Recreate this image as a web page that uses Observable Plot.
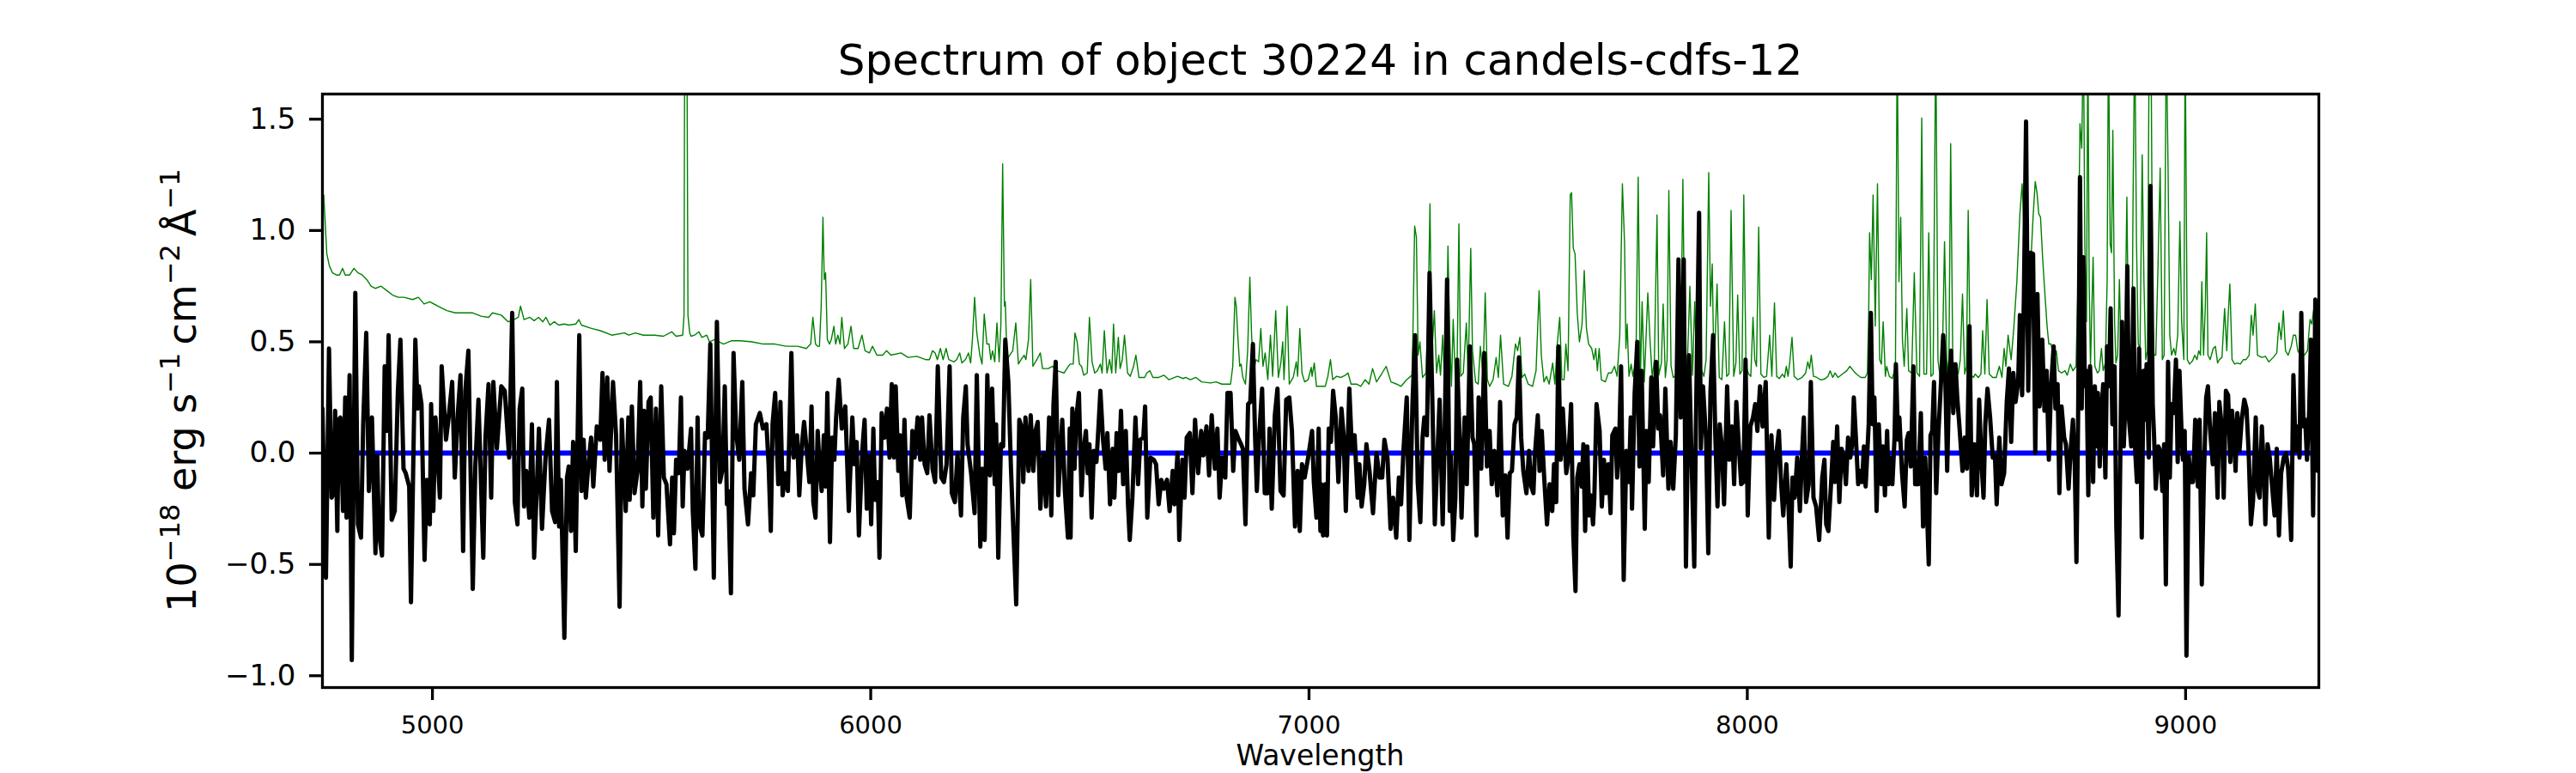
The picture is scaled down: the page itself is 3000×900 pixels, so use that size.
<!DOCTYPE html>
<html><head><meta charset="utf-8">
<script src="https://cdn.jsdelivr.net/npm/d3@7"></script>
<script src="https://cdn.jsdelivr.net/npm/@observablehq/plot@0.6"></script>
<style>
html,body{margin:0;padding:0;background:#fff;}
#chart{width:3000px;height:900px;}
</style></head><body><div id="chart"></div>
<script>
const titleText = "Spectrum of object 30224 in candels-cdfs-12";
const xLabelText = "Wavelength";
const xTicks = [5000, 6000, 7000, 8000, 9000];
const yTicks = [-1.0, -0.5, 0.0, 0.5, 1.0, 1.5];
const xDomain = [4749, 9304];
const yDomain = [-1.053, 1.613];

// object spectrum [wavelength, flux]
const objectFlux = [
[4749,0.20],[4757,-0.56],[4764,0.47],[4770,-0.20],[4775,-0.18],[4778,0.19],[4783,-0.35],[4786,0.15],[4790,0.16],[4796,-0.26],[4801,0.25],[4804,-0.29],[4811,0.35],[4816,-0.93],[4824,0.72],[4830,-0.32],[4837,-0.38],[4842,0.13],[4849,0.54],[4855,-0.17],[4862,0.16],[4870,-0.45],[4874,-0.01],[4878,-0.36],[4885,-0.46],[4891,0.39],[4896,0.10],[4900,0.53],[4907,-0.30],[4914,-0.26],[4921,0.27],[4927,0.51],[4934,-0.07],[4939,-0.09],[4947,-0.15],[4951,-0.67],[4961,0.51],[4966,0.20],[4969,0.30],[4975,0.22],[4982,-0.48],[4987,-0.12],[4994,-0.32],[4997,0.22],[5002,-0.26],[5007,0.16],[5017,-0.20],[5021,0.39],[5031,0.06],[5037,0.16],[5045,0.32],[5051,-0.11],[5058,0.18],[5064,0.35],[5070,-0.44],[5075,0.28],[5082,0.46],[5092,-0.61],[5098,-0.05],[5105,0.24],[5116,-0.47],[5121,0.07],[5128,0.31],[5134,-0.20],[5139,0.32],[5147,0.02],[5157,0.30],[5165,0.28],[5175,-0.02],[5182,0.63],[5188,-0.22],[5194,-0.32],[5199,0.20],[5205,0.29],[5209,-0.24],[5214,-0.08],[5221,-0.29],[5227,0.13],[5232,-0.47],[5239,-0.11],[5243,0.11],[5250,-0.34],[5258,-0.02],[5266,0.15],[5273,-0.26],[5280,-0.31],[5284,0.32],[5289,-0.33],[5293,-0.12],[5301,-0.83],[5307,-0.11],
[5311,-0.06],[5316,-0.35],[5321,0.05],[5327,-0.44],[5335,0.53],[5340,-0.17],[5345,0.06],[5350,-0.20],[5355,-0.07],[5362,0.07],[5367,-0.15],[5375,0.12],[5383,0.06],[5388,0.36],[5393,-0.03],[5399,0.34],[5404,-0.08],[5412,0.32],[5419,0.08],[5427,-0.69],[5432,0.15],[5441,-0.26],[5447,0.16],[5450,-0.21],[5455,0.21],[5461,-0.18],[5468,-0.08],[5474,0.32],[5479,-0.24],[5483,0.19],[5487,-0.16],[5493,0.23],[5498,0.25],[5504,-0.29],[5510,0.20],[5515,-0.37],[5522,0.30],[5528,-0.11],[5534,-0.14],[5542,-0.41],[5547,-0.11],[5551,-0.36],[5556,-0.03],[5562,-0.09],[5567,0.25],[5571,-0.24],[5575,0.01],[5582,-0.07],[5590,0.11],[5594,-0.26],[5600,-0.52],[5605,0.16],[5609,-0.32],[5616,-0.37],[5622,0.09],[5628,0.07],[5634,0.49],[5642,-0.56],[5649,0.59],[5656,-0.13],[5662,-0.07],[5667,0.30],[5672,-0.23],[5675,-0.17],[5681,-0.63],[5687,0.45],[5693,0.09],[5700,-0.03],[5707,0.32],[5712,-0.16],[5720,-0.32],[5727,-0.09],[5732,-0.19],[5738,0.13],[5747,0.18],[5754,0.11],[5762,0.13],[5767,-0.05],[5772,-0.35],[5776,0.13],[5782,0.27],[5789,-0.14],[5794,0.23],[5799,-0.19],[5805,-0.09],[5811,-0.17],[5819,0.45],[5824,-0.02],[5832,0.08],[5837,-0.19],[5843,0.04],[5848,0.14],[5854,0.01],[5860,-0.13],[5865,0.21],[5869,-0.22],[5874,-0.29],[5879,0.10],
[5883,-0.05],[5888,-0.17],[5893,0.08],[5897,-0.15],[5901,0.27],[5907,-0.40],[5912,0.07],[5917,-0.03],[5921,0.16],[5927,0.33],[5934,0.11],[5942,0.21],[5950,-0.26],[5958,0.16],[5963,-0.05],[5968,0.05],[5973,-0.37],[5981,0.02],[5986,0.15],[5991,-0.25],[5997,-0.01],[6001,-0.32],[6006,0.11],[6010,-0.21],[6016,-0.13],[6020,-0.47],[6025,0.18],[6032,0.07],[6037,0.20],[6043,-0.02],[6048,0.31],[6053,-0.02],[6057,0.30],[6063,-0.08],[6067,0.08],[6072,-0.19],[6077,0.15],[6082,-0.20],[6089,-0.29],[6095,0.10],[6100,-0.02],[6107,0.16],[6113,-0.03],[6117,0.16],[6123,-0.05],[6129,-0.09],[6134,0.17],[6141,-0.07],[6147,-0.13],[6153,0.39],[6161,-0.11],[6167,-0.13],[6173,-0.05],[6180,0.39],[6185,-0.18],[6192,-0.22],[6198,0.00],[6206,-0.28],[6211,0.16],[6217,0.30],[6221,0.04],[6229,-0.09],[6237,-0.27],[6242,0.35],[6250,-0.42],[6255,-0.07],[6260,-0.39],[6266,0.35],[6272,-0.10],[6277,0.29],[6283,-0.14],[6286,0.13],[6291,-0.47],[6297,0.04],[6302,0.03],[6307,0.51],[6314,0.32],[6320,-0.07],[6332,-0.68],[6339,0.15],[6345,0.11],[6348,-0.13],[6353,0.16],[6360,-0.08],[6365,0.17],[6371,-0.08],[6376,0.10],[6381,0.14],[6387,-0.25],[6394,0.00],[6400,-0.24],[6407,0.16],[6412,-0.28],[6417,0.22],[6422,0.41],[6428,-0.19],[6437,0.15],[6443,-0.17],[6450,-0.38],[6454,0.11],
[6456,-0.38],[6460,0.20],[6465,-0.07],[6469,0.16],[6475,0.27],[6481,-0.19],[6486,0.02],[6491,0.10],[6495,-0.09],[6499,0.04],[6504,-0.29],[6509,0.01],[6515,-0.04],[6520,0.13],[6524,0.28],[6530,0.06],[6536,-0.07],[6540,0.09],[6546,-0.23],[6552,0.02],[6556,-0.20],[6561,0.09],[6566,-0.08],[6571,0.19],[6576,-0.14],[6582,0.10],[6587,-0.23],[6591,-0.39],[6597,-0.20],[6604,0.16],[6610,-0.14],[6615,0.06],[6622,0.07],[6626,0.21],[6631,-0.29],[6638,-0.02],[6646,-0.03],[6651,-0.05],[6657,-0.23],[6663,-0.12],[6669,-0.16],[6676,-0.12],[6682,-0.26],[6689,-0.08],[6693,-0.23],[6700,0.00],[6704,-0.39],[6711,-0.03],[6716,-0.20],[6721,0.07],[6728,0.09],[6734,-0.18],[6740,0.15],[6747,-0.09],[6754,0.10],[6759,-0.01],[6766,0.12],[6772,-0.10],[6778,0.17],[6785,-0.07],[6791,0.11],[6796,-0.20],[6802,-0.02],[6809,-0.11],[6814,0.27],[6821,0.27],[6827,-0.08],[6832,0.10],[6838,0.07],[6845,0.04],[6849,0.02],[6855,-0.32],[6861,0.22],[6866,0.23],[6872,0.49],[6877,0.07],[6881,-0.17],[6886,0.07],[6893,0.29],[6899,-0.18],[6906,-0.18],[6910,0.11],[6915,-0.25],[6922,0.17],[6928,0.29],[6935,-0.17],[6942,-0.19],[6948,0.24],[6955,0.25],[6961,0.10],[6968,-0.33],[6974,-0.08],[6979,-0.35],[6984,-0.05],[6990,-0.11],[6998,-0.02],[7007,0.10],[7011,-0.13],[7017,-0.29],[7022,0.11],[7026,-0.35],
[7028,-0.14],[7032,-0.37],[7037,-0.14],[7041,-0.37],[7045,0.11],[7050,0.05],[7055,0.28],[7061,0.16],[7067,-0.13],[7074,0.20],[7079,0.08],[7084,-0.26],[7092,0.29],[7098,0.01],[7104,0.08],[7111,-0.20],[7115,-0.05],[7120,-0.24],[7126,-0.14],[7131,0.04],[7138,-0.08],[7146,-0.27],[7154,0.00],[7161,-0.11],[7167,-0.11],[7172,0.06],[7179,-0.02],[7186,-0.34],[7192,-0.20],[7199,-0.38],[7205,-0.11],[7210,-0.23],[7216,0.03],[7223,0.25],[7229,-0.39],[7236,0.22],[7242,0.53],[7248,-0.13],[7254,-0.31],[7259,0.07],[7263,0.16],[7269,0.08],[7275,0.81],[7282,0.18],[7287,-0.32],[7291,-0.11],[7298,0.24],[7305,-0.32],[7309,0.02],[7315,0.78],[7321,-0.26],[7324,-0.01],[7329,-0.39],[7334,-0.20],[7338,0.42],[7344,0.04],[7348,-0.29],[7355,0.16],[7360,-0.14],[7367,0.48],[7373,0.07],[7377,0.04],[7382,-0.37],[7387,0.25],[7393,-0.07],[7400,0.45],[7406,-0.06],[7412,0.10],[7417,-0.14],[7423,0.01],[7430,-0.19],[7436,0.23],[7442,-0.28],[7448,-0.10],[7453,-0.38],[7458,-0.09],[7463,-0.08],[7469,0.13],[7474,0.16],[7479,0.43],[7484,0.07],[7489,-0.08],[7496,-0.18],[7502,0.01],[7507,-0.15],[7512,-0.18],[7515,-0.02],[7522,0.17],[7526,-0.08],[7531,0.10],[7536,-0.09],[7543,-0.32],[7549,-0.14],[7555,-0.26],[7559,-0.05],[7564,-0.22],[7569,0.48],[7574,-0.03],[7579,0.20],[7587,-0.09],[7592,-0.02],[7598,0.22],
[7603,-0.37],[7608,-0.62],[7612,-0.11],[7617,-0.05],[7622,-0.15],[7626,0.04],[7630,-0.35],[7635,0.03],[7639,-0.28],[7643,-0.19],[7648,-0.32],[7651,-0.20],[7656,0.22],[7663,0.10],[7668,-0.24],[7673,-0.03],[7677,-0.18],[7683,-0.05],[7688,-0.27],[7692,0.08],[7699,0.11],[7703,-0.11],[7707,0.00],[7712,0.39],[7718,-0.57],[7724,0.01],[7730,-0.13],[7734,0.16],[7737,-0.25],[7743,0.27],[7749,0.50],[7754,-0.06],[7759,0.37],[7766,-0.34],[7770,0.10],[7775,-0.13],[7781,0.34],[7785,0.03],[7792,0.41],[7797,0.11],[7801,0.17],[7808,-0.10],[7813,0.29],[7820,-0.16],[7825,0.05],[7831,-0.16],[7837,0.08],[7843,0.87],[7848,0.16],[7855,0.87],[7860,-0.51],[7867,0.44],[7872,0.04],[7879,-0.51],[7883,0.16],[7890,1.08],[7894,0.02],[7899,0.30],[7906,0.06],[7911,-0.45],[7916,0.28],[7922,0.53],[7927,0.08],[7932,-0.24],[7937,0.13],[7942,0.03],[7947,-0.23],[7954,0.30],[7959,-0.03],[7965,0.12],[7970,-0.14],[7975,0.23],[7981,0.02],[7986,-0.14],[7991,-0.13],[7996,0.42],[8001,-0.28],[8007,0.12],[8013,0.16],[8018,0.22],[8023,0.10],[8029,0.30],[8035,0.12],[8042,0.32],[8049,-0.38],[8055,0.08],[8061,-0.21],[8067,0.01],[8072,0.10],[8077,-0.13],[8082,-0.28],[8089,-0.05],[8094,-0.24],[8099,-0.51],[8103,-0.11],[8108,-0.20],[8114,-0.02],[8120,-0.26],[8125,0.00],[8129,0.16],[8134,-0.22],[8140,-0.14],[8145,0.32],[8151,-0.20],[8157,-0.24],[8164,-0.39],[8171,-0.11],
[8176,-0.03],[8180,-0.32],[8185,-0.35],[8191,-0.14],[8196,0.05],[8200,-0.13],[8205,0.12],[8210,-0.22],[8215,0.02],[8220,-0.02],[8225,-0.14],[8230,0.07],[8235,-0.02],[8240,0.05],[8243,0.25],[8248,0.06],[8253,-0.14],[8257,-0.08],[8262,-0.13],[8266,0.03],[8270,-0.15],[8277,0.13],[8282,0.63],[8286,0.13],[8290,0.25],[8295,-0.26],[8300,0.13],[8306,-0.14],[8310,0.03],[8314,-0.19],[8319,0.10],[8322,-0.14],[8326,-0.02],[8331,-0.14],[8336,0.07],[8339,0.40],[8344,0.06],[8347,0.16],[8353,-0.09],[8359,-0.24],[8364,0.06],[8368,0.09],[8373,-0.06],[8379,0.39],[8383,-0.14],[8390,-0.14],[8396,0.18],[8401,-0.33],[8406,-0.02],[8414,-0.50],[8418,0.08],[8422,0.10],[8426,0.32],[8431,-0.18],[8436,0.09],[8442,0.32],[8447,0.53],[8452,0.32],[8456,-0.08],[8461,0.35],[8465,0.46],[8470,0.18],[8475,0.40],[8479,0.25],[8484,0.12],[8491,-0.08],[8496,0.07],[8501,-0.07],[8507,0.57],[8512,-0.19],[8518,0.04],[8524,-0.19],[8529,0.24],[8534,-0.03],[8539,-0.20],[8543,0.13],[8548,0.29],[8554,0.16],[8560,-0.02],[8565,-0.01],[8569,-0.23],[8575,0.07],[8580,-0.14],[8586,-0.09],[8592,0.23],[8597,0.38],[8602,0.05],[8607,0.36],[8612,0.23],[8618,0.32],[8622,0.62],[8627,0.26],[8631,0.69],[8636,1.49],[8641,0.28],[8646,0.90],[8652,0.895],[8657,0.00],[8662,0.715],[8667,0.21],[8673,0.51],[8678,0.19],[8683,0.37],[8688,-0.03],[8693,0.30],[8699,0.48],[8703,0.20],[8708,0.31],[8712,-0.18],[8717,0.21],[8723,0.07],[8727,0.04],[8733,-0.16],[8738,0.02],[8743,0.15],
[8747,-0.04],[8751,-0.49],[8755,0.20],[8759,1.24],[8763,0.20],[8767,0.88],[8770,0.30],[8774,0.37],[8778,-0.19],[8782,0.39],[8786,0.15],[8789,-0.13],[8793,0.30],[8797,0.03],[8800,0.27],[8804,-0.06],[8808,0.18],[8812,0.31],[8817,-0.11],[8821,0.48],[8825,0.30],[8829,0.65],[8833,0.13],[8838,0.39],[8842,-0.33],[8847,-0.73],[8852,0.15],[8855,0.59],[8859,0.03],[8864,0.32],[8867,0.84],[8871,0.15],[8876,0.03],[8881,0.74],[8885,0.01],[8889,-0.13],[8894,0.47],[8900,-0.38],[8904,0.37],[8908,0.15],[8911,0.40],[8916,-0.02],[8920,1.20],[8925,0.22],[8928,0.08],[8932,-0.16],[8938,0.03],[8942,0.01],[8947,-0.17],[8951,0.04],[8955,-0.59],[8960,0.41],[8964,-0.11],[8968,0.22],[8973,0.18],[8978,0.42],[8982,-0.04],[8986,0.37],[8991,0.08],[8994,-0.03],[8998,0.10],[9002,-0.91],[9007,-0.01],[9012,-0.13],[9017,-0.13],[9022,0.15],[9028,-0.15],[9032,0.15],[9037,-0.59],[9042,-0.09],[9047,0.25],[9051,0.30],[9056,0.10],[9062,-0.05],[9067,0.18],[9073,-0.20],[9077,0.23],[9083,0.11],[9087,-0.20],[9092,0.28],[9097,0.26],[9102,-0.04],[9106,0.19],[9110,0.09],[9114,-0.08],[9118,0.18],[9123,0.01],[9128,0.15],[9134,0.24],[9139,0.20],[9144,0.00],[9149,-0.32],[9154,-0.21],[9160,0.16],[9165,-0.17],[9169,-0.20],[9174,0.12],[9179,-0.10],[9182,-0.32],[9187,0.04],[9192,-0.02],[9197,-0.14],[9203,-0.28],[9208,0.02],[9213,-0.37],[9218,-0.09],[9224,-0.02],[9229,0.00],[9234,-0.07],[9241,-0.39],[9246,0.35],[9251,0.01],[9256,0.12],[9260,-0.02],[9264,0.63],[9269,0.12],[9273,0.15],[9277,-0.03],[9282,0.19],[9286,0.51],[9291,-0.28],[9296,0.69],[9301,-0.08]
];

// sky / noise spectrum [wavelength, flux]
const skyFlux = [
[4752,1.16],[4759,0.895],[4765,0.84],[4772,0.81],[4781,0.80],[4788,0.80],[4795,0.83],[4801,0.80],[4811,0.80],[4821,0.83],[4830,0.81],[4840,0.80],[4850,0.78],[4860,0.75],[4870,0.74],[4883,0.75],[4896,0.73],[4909,0.71],[4922,0.70],[4935,0.70],[4955,0.69],[4968,0.70],[4981,0.67],[4994,0.68],[5013,0.66],[5033,0.64],[5052,0.63],[5072,0.63],[5092,0.63],[5111,0.615],[5128,0.61],[5137,0.63],[5157,0.62],[5173,0.59],[5186,0.60],[5196,0.61],[5201,0.66],[5209,0.60],[5222,0.61],[5232,0.595],[5242,0.61],[5252,0.59],[5259,0.61],[5268,0.575],[5278,0.59],[5288,0.575],[5301,0.58],[5311,0.575],
[5327,0.58],[5334,0.60],[5340,0.575],[5363,0.56],[5383,0.55],[5409,0.53],[5438,0.54],[5448,0.53],[5463,0.54],[5481,0.53],[5507,0.53],[5527,0.525],[5546,0.545],[5556,0.525],[5571,0.53],[5574,0.62],[5576,2.2],[5580,2.2],[5583,0.62],[5587,0.54],[5590,0.525],[5598,0.53],[5608,0.545],[5615,0.52],[5626,0.53],[5632,0.50],[5644,0.51],[5664,0.49],[5683,0.505],[5703,0.505],[5729,0.50],[5755,0.49],[5781,0.49],[5807,0.48],[5833,0.48],[5853,0.47],[5863,0.49],[5868,0.61],[5874,0.49],[5879,0.48],
[5883,0.48],[5887,0.66],[5891,1.06],[5894,0.78],[5897,0.81],[5901,0.51],[5906,0.49],[5910,0.51],[5916,0.57],[5920,0.49],[5925,0.53],[5930,0.49],[5934,0.61],[5940,0.47],[5948,0.49],[5955,0.57],[5961,0.47],[5971,0.47],[5980,0.53],[5987,0.46],[5997,0.45],[6004,0.48],[6014,0.44],[6027,0.44],[6036,0.46],[6046,0.44],[6069,0.45],[6085,0.43],[6105,0.435],[6125,0.42],[6134,0.42],[6141,0.46],[6147,0.45],[6152,0.42],[6159,0.47],[6165,0.42],[6172,0.47],[6178,0.42],[6190,0.41],[6196,0.42],[6203,0.45],[6208,0.405],[6216,0.42],[6223,0.45],[6228,0.405],[6232,0.51],[6237,0.70],[6242,0.54],[6249,0.44],[6254,0.40],[6259,0.625],[6265,0.49],[6270,0.49],[6274,0.42],[6278,0.46],[6283,0.41],[6288,0.585],[6293,0.41],[6297,0.58],[6301,1.30],[6305,0.66],[6307,0.68],[6311,0.42],[6317,0.44],[6324,0.46],[6331,0.585],[6337,0.40],[6343,0.42],[6350,0.44],[6354,0.42],[6360,0.51],[6365,0.78],[6370,0.39],[6379,0.42],[6387,0.45],[6392,0.38],[6405,0.38],[6415,0.39],[6425,0.37],[6441,0.36],[6451,0.39],
[6455,0.40],[6462,0.40],[6466,0.54],[6471,0.50],[6476,0.40],[6481,0.39],[6486,0.35],[6494,0.36],[6499,0.61],[6505,0.41],[6511,0.36],[6517,0.37],[6524,0.40],[6528,0.36],[6533,0.55],[6539,0.36],[6545,0.42],[6550,0.36],[6554,0.58],[6559,0.36],[6565,0.52],[6569,0.38],[6574,0.42],[6579,0.53],[6586,0.36],[6592,0.345],[6599,0.385],[6605,0.44],[6612,0.34],[6625,0.34],[6630,0.36],[6637,0.37],[6644,0.34],[6657,0.34],[6669,0.35],[6680,0.33],[6700,0.345],[6713,0.335],[6719,0.34],[6729,0.33],[6742,0.34],[6755,0.32],[6775,0.315],[6788,0.32],[6801,0.31],[6821,0.31],[6826,0.39],[6831,0.70],[6834,0.66],[6838,0.51],[6842,0.39],[6845,0.40],[6849,0.34],[6855,0.31],[6860,0.46],[6865,0.79],[6869,0.53],[6874,0.37],[6879,0.42],[6885,0.41],[6890,0.56],[6895,0.39],[6900,0.45],[6906,0.33],[6912,0.53],[6917,0.345],[6924,0.64],[6930,0.34],[6936,0.41],[6940,0.50],[6943,0.33],[6950,0.66],[6955,0.31],[6964,0.34],[6971,0.41],[6974,0.345],[6979,0.56],[6984,0.36],[6990,0.32],[6998,0.33],[7005,0.385],[7007,0.345],[7012,0.405],[7017,0.30],[7027,0.30],
[7037,0.30],[7043,0.345],[7049,0.42],[7054,0.33],[7063,0.345],[7073,0.34],[7083,0.35],[7089,0.36],[7096,0.31],[7109,0.31],[7118,0.30],[7128,0.33],[7137,0.31],[7145,0.38],[7154,0.32],[7167,0.36],[7176,0.39],[7187,0.32],[7200,0.31],[7210,0.30],[7223,0.33],[7235,0.35],[7237,0.53],[7241,1.02],[7245,0.97],[7249,0.44],[7253,0.50],[7259,0.34],[7267,0.36],[7272,0.66],[7276,1.12],[7280,0.44],[7286,0.64],[7291,0.36],[7296,0.44],[7300,0.35],[7305,0.53],[7309,0.33],[7313,0.44],[7317,0.93],[7321,0.53],[7325,0.30],[7329,0.60],[7334,0.32],[7338,0.41],[7342,1.03],[7346,0.345],[7352,0.36],[7359,0.585],[7363,0.35],[7369,0.92],[7373,0.46],[7380,0.32],[7386,0.31],[7391,0.48],[7397,0.345],[7402,0.72],[7407,0.33],[7412,0.30],[7420,0.33],[7427,0.43],[7432,0.34],[7437,0.53],[7444,0.31],[7455,0.30],[7463,0.345],[7471,0.49],[7476,0.46],[7481,0.52],[7486,0.34],[7492,0.355],[7500,0.31],[7510,0.30],[7518,0.37],[7525,0.73],[7530,0.44],[7536,0.32],[7542,0.345],[7548,0.31],[7556,0.405],[7561,0.31],[7566,0.48],[7572,0.61],[7577,0.33],[7582,0.33],[7586,0.49],[7591,0.37],[7596,1.16],
[7599,1.17],[7603,0.92],[7607,0.895],[7612,0.63],[7617,0.50],[7623,0.58],[7628,0.82],[7633,0.56],[7638,0.49],[7645,0.47],[7650,0.42],[7654,0.47],[7658,0.37],[7662,0.47],[7667,0.33],[7676,0.32],[7683,0.36],[7690,0.36],[7697,0.39],[7703,0.345],[7709,0.53],[7715,1.21],[7720,0.94],[7723,0.47],[7726,0.58],[7730,0.345],[7735,0.40],[7739,0.345],[7746,0.42],[7751,1.24],[7756,0.32],[7760,0.68],[7765,0.32],[7773,0.72],[7778,0.51],[7783,0.34],[7788,0.42],[7794,1.07],[7798,0.35],[7804,0.405],[7808,0.67],[7813,0.34],[7817,0.42],[7821,1.18],[7826,0.39],[7831,0.34],[7837,0.35],[7842,0.39],[7848,0.42],[7853,1.23],[7858,0.345],[7863,0.39],[7869,0.75],[7875,0.35],[7880,0.68],[7885,0.34],[7890,0.39],[7896,0.37],[7901,0.345],[7906,0.42],[7912,1.26],[7916,0.66],[7920,0.85],[7924,0.35],[7931,0.76],[7936,0.34],[7942,0.33],[7948,0.59],[7953,0.345],[7958,0.355],[7963,1.09],[7969,0.345],[7974,0.405],[7978,0.71],[7983,0.355],[7988,0.37],[7992,1.16],[7997,0.39],[8003,0.355],[8008,0.345],[8013,0.61],[8017,0.42],[8021,0.39],[8026,1.015],[8031,0.355],[8038,0.34],[8044,0.345],[8051,0.53],[8056,0.345],[8062,0.675],[8067,0.345],[8073,0.335],[8080,0.355],[8085,0.34],[8089,0.39],[8093,0.345],[8097,0.41],[8102,0.52],[8107,0.345],[8115,0.33],[8125,0.34],[8133,0.36],[8138,0.41],[8142,0.38],[8146,0.44],[8151,0.345],[8159,0.34],[8166,0.33],[8171,0.33],
[8178,0.335],[8184,0.345],[8189,0.37],[8195,0.34],[8200,0.36],[8207,0.34],[8217,0.355],[8227,0.37],[8234,0.39],[8242,0.37],[8249,0.355],[8259,0.34],[8269,0.34],[8274,0.36],[8277,0.63],[8279,0.99],[8283,0.78],[8287,1.16],[8292,0.57],[8297,1.21],[8302,0.42],[8306,0.40],[8310,0.59],[8315,0.345],[8318,0.39],[8324,0.345],[8331,0.335],[8338,0.39],[8342,1.9],[8346,0.77],[8350,1.06],[8354,0.51],[8358,0.39],[8364,0.65],[8368,0.37],[8375,0.36],[8381,0.81],[8387,0.36],[8393,0.345],[8398,1.505],[8403,0.355],[8409,0.355],[8414,0.99],[8419,0.345],[8424,0.355],[8430,1.9],[8435,0.42],[8440,0.34],[8445,0.42],[8450,0.95],[8456,0.345],[8460,0.42],[8464,1.39],[8469,0.39],[8475,0.355],[8481,0.355],[8486,0.42],[8491,0.715],[8496,0.355],[8500,0.39],[8504,1.09],[8509,0.355],[8516,0.34],[8520,0.355],[8527,0.34],[8533,0.355],[8537,0.55],[8542,0.355],[8547,0.69],[8552,0.355],[8560,0.34],[8568,0.34],[8575,0.39],[8581,0.34],[8586,0.47],[8590,0.39],[8595,0.53],[8602,0.42],[8608,0.56],[8615,0.77],[8622,1.075],[8627,1.21],[8632,0.97],[8636,0.90],[8641,0.44],[8646,0.82],[8652,1.06],[8657,1.22],[8661,1.17],[8665,1.075],[8669,1.06],[8674,0.87],[8679,0.715],[8684,0.57],[8688,0.49],[8693,0.49],[8700,0.42],[8705,0.46],[8710,0.37],[8717,0.36],[8725,0.37],[8730,0.35],[8737,0.40],[8743,0.37],
[8750,0.39],[8755,0.80],[8759,1.48],[8763,1.37],[8767,1.9],[8770,0.94],[8774,0.59],[8777,1.9],[8780,0.77],[8783,0.39],[8789,0.88],[8793,0.39],[8799,0.36],[8803,0.37],[8808,0.47],[8812,0.37],[8817,0.405],[8821,0.77],[8824,1.9],[8828,0.94],[8831,0.90],[8834,1.45],[8838,0.59],[8841,0.405],[8845,0.44],[8849,0.78],[8853,0.42],[8857,0.44],[8862,0.56],[8866,1.15],[8870,0.46],[8874,0.44],[8878,0.51],[8880,1.11],[8884,1.9],[8888,0.94],[8892,0.49],[8896,0.47],[8901,1.34],[8905,0.77],[8909,0.42],[8913,0.46],[8917,1.9],[8921,1.9],[8925,0.59],[8928,0.44],[8932,0.44],[8937,0.835],[8942,1.28],[8947,0.42],[8951,0.44],[8956,1.9],[8960,1.28],[8964,0.53],[8968,0.44],[8973,0.47],[8977,0.44],[8982,0.53],[8987,1.04],[8991,0.59],[8996,0.42],[8999,1.9],[9004,0.42],[9009,0.40],[9016,0.415],[9021,0.44],[9026,0.42],[9030,0.46],[9034,0.44],[9037,0.77],[9041,0.44],[9045,0.66],[9048,0.99],[9051,0.44],[9056,0.42],[9063,0.47],[9068,0.48],[9073,0.405],[9077,0.42],[9083,0.43],[9089,0.65],[9094,0.46],[9097,0.61],[9101,0.76],[9106,0.42],[9112,0.40],[9118,0.405],[9125,0.40],[9132,0.42],[9138,0.42],[9145,0.44],[9150,0.62],[9154,0.53],[9159,0.67],[9164,0.44],[9174,0.43],[9182,0.435],[9190,0.41],[9200,0.43],[9208,0.45],[9213,0.585],[9218,0.51],[9223,0.64],[9228,0.46],[9234,0.44],[9241,0.48],[9246,0.53],[9251,0.53],[9256,0.46],[9262,0.44],[9271,0.44],[9278,0.46],[9284,0.60],[9288,0.58],[9292,0.64],[9297,0.53],[9302,0.49]
];

// model (zero) line
const modelFlux = [[4752, 0.0], [9292, 0.0]];

const font = '"DejaVu Sans", sans-serif';
const svg = Plot.plot({
  width: 3000, height: 900,
  marginLeft: 375, marginRight: 300, marginTop: 109, marginBottom: 100,
  style: {fontFamily: font, background: "#fff", color: "#000", overflow: "visible"},
  x: {domain: xDomain},
  y: {domain: yDomain},
  marks: [
    Plot.line(skyFlux, {x: d => d[0], y: d => d[1], stroke: "#008000", strokeWidth: 1.4, strokeLinejoin: "round", clip: true}),
    Plot.line(modelFlux, {x: d => d[0], y: d => d[1], stroke: "#0000ff", strokeWidth: 6, clip: true}),
    Plot.line(objectFlux, {x: d => d[0], y: d => d[1], stroke: "#000", strokeWidth: 5, strokeLinejoin: "round", clip: true}),
    Plot.frame({stroke: "#000", strokeWidth: 3.3}),
    Plot.axisX({ticks: xTicks, tickSize: 15, tickPadding: 18, fontSize: 29, strokeWidth: 3.3, label: null, tickFormat: d => String(d)}),
    Plot.axisY({ticks: yTicks, tickSize: 15, tickPadding: 16, fontSize: 34, strokeWidth: 3.3, label: null, tickFormat: d3.format(".1f")})
  ]
});

const s = d3.select(svg);
s.append("text").attr("x", 1537.5).attr("y", 87).attr("text-anchor", "middle")
  .attr("font-family", font).attr("font-size", 50).attr("fill", "#000").text(titleText);
s.append("text").attr("x", 1537.5).attr("y", 891).attr("text-anchor", "middle")
  .attr("font-family", font).attr("font-size", 33).attr("fill", "#000").text(xLabelText);

const yl = s.append("text").attr("transform", "translate(228,454.5) rotate(-90)")
  .attr("text-anchor", "middle").attr("font-family", font).attr("font-size", 46).attr("fill", "#000");
const parts = [["10", false], ["\u221218", true], [" erg s", false], ["\u22121", true], ["\u2009cm", false], ["\u22122", true], ["\u2009\u00C5", false], ["\u22121", true]];
let up = false;
for (const [t, sup] of parts) {
  const ts = yl.append("tspan").text(t);
  if (sup && !up) { ts.attr("dy", -19).attr("font-size", 32); up = true; }
  else if (sup) { ts.attr("font-size", 32); }
  else if (!sup && up) { ts.attr("dy", 19); up = false; }
}
document.getElementById("chart").appendChild(svg);
</script></body></html>
